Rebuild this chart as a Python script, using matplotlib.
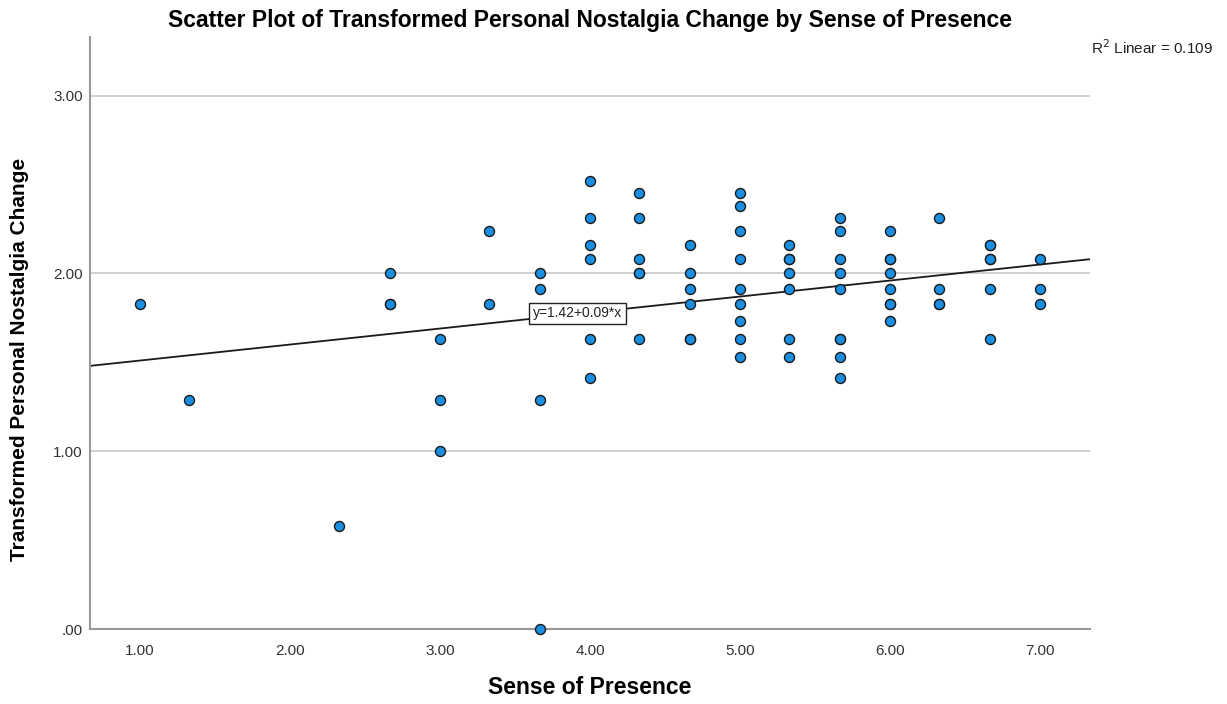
import matplotlib
matplotlib.use("Agg")
import matplotlib.pyplot as plt
import numpy as np

plt.rcParams["font.family"] = ["Liberation Sans", "DejaVu Sans"]

# Sense of Presence (x) and transformed nostalgia change (y), read per column
presence = [
    1.00,
    1.33,
    2.33,
    2.67, 2.67, 2.67,
    3.00, 3.00, 3.00,
    3.33, 3.33,
    3.67, 3.67, 3.67, 3.67,
    4.00, 4.00, 4.00, 4.00, 4.00, 4.00,
    4.33, 4.33, 4.33, 4.33, 4.33, 4.33,
    4.67, 4.67, 4.67, 4.67, 4.67, 4.67,
    5.00, 5.00, 5.00, 5.00, 5.00, 5.00, 5.00, 5.00, 5.00,
    5.33, 5.33, 5.33, 5.33, 5.33, 5.33, 5.33,
    5.67, 5.67, 5.67, 5.67, 5.67, 5.67, 5.67, 5.67, 5.67,
    6.00, 6.00, 6.00, 6.00, 6.00, 6.00, 6.00, 6.00,
    6.33, 6.33, 6.33, 6.33,
    6.67, 6.67, 6.67, 6.67, 6.67, 6.67,
    7.00, 7.00, 7.00,
]
nostalgia = [
    1.83,
    1.29,
    0.58,
    2.00, 1.83, 1.83,
    1.63, 1.29, 1.00,
    2.24, 1.83,
    2.00, 1.91, 1.29, 0.00,
    2.52, 2.31, 2.16, 2.08, 1.63, 1.41,
    2.45, 2.31, 2.08, 2.00, 2.00, 1.63,
    2.16, 2.00, 1.91, 1.83, 1.63, 1.63,
    2.45, 2.38, 2.24, 2.08, 1.91, 1.83, 1.73, 1.63, 1.53,
    2.16, 2.08, 2.08, 2.00, 1.91, 1.63, 1.53,
    2.31, 2.24, 2.08, 2.00, 1.91, 1.63, 1.63, 1.53, 1.41,
    2.24, 2.08, 2.08, 2.00, 1.91, 1.83, 1.83, 1.73,
    2.31, 1.91, 1.83, 1.83,
    2.16, 2.16, 2.08, 2.08, 1.91, 1.63,
    2.08, 1.91, 1.83,
]

fit_intercept = 1.42
fit_slope = 0.09
r_squared = 0.109

x_ticks = [1, 2, 3, 4, 5, 6, 7]
y_ticks = [0, 1, 2, 3]


def fmt(v):
    s = f"{v:.2f}"
    return s[1:] if s.startswith("0") else s


fig = plt.figure(figsize=(12.27, 7.04), dpi=100)
ax = fig.add_axes([0.0733, 0.1065, 0.8150, 0.8410])

xmin, xmax = 0.667, 7.333
ymin, ymax = 0.0, 3.33

for yv in y_ticks[1:]:
    ax.axhline(yv, color="#c8c8c8", lw=1.2, zorder=0)

xs = np.array([xmin, xmax])
ax.plot(xs, fit_intercept + fit_slope * xs, color="#1a1a1a", lw=1.3, zorder=2)

ax.scatter(presence, nostalgia, s=52, c="#1a8ee0", edgecolors="#1a1a1a",
           linewidths=1.0, zorder=3, clip_on=False)

ax.text(3.62, fit_intercept + fit_slope * 3.62 + 0.03,
        f"y={fit_intercept:.2f}+{fit_slope:.2f}*x", fontsize=10,
        va="center", ha="left", color="#222222", zorder=4,
        bbox=dict(boxstyle="square,pad=0.25", fc="white", ec="#222222", lw=1.0))

ax.set_xlim(xmin, xmax)
ax.set_ylim(ymin, ymax)
ax.set_xticks(x_ticks)
ax.set_xticklabels([fmt(v) for v in x_ticks])
ax.set_yticks(y_ticks)
ax.set_yticklabels([fmt(v) for v in y_ticks])
ax.tick_params(length=0, labelsize=11, colors="#333333")
ax.tick_params(axis="x", pad=11)
ax.tick_params(axis="y", pad=5)

for side in ("top", "right"):
    ax.spines[side].set_visible(False)
for side in ("left", "bottom"):
    ax.spines[side].set_color("#999999")
    ax.spines[side].set_linewidth(1.5)

ax.set_title("Scatter Plot of Transformed Personal Nostalgia Change by Sense of Presence",
             fontsize=16.5, fontweight="bold", pad=7)
ax.set_xlabel("Sense of Presence", fontsize=16.5, fontweight="bold")
ax.xaxis.set_label_coords(0.5, -0.08)
ax.set_ylabel("Transformed Personal Nostalgia Change", fontsize=15,
              fontweight="bold")
ax.yaxis.set_label_coords(-0.061, 0.455)

fig.text(0.889, 0.933, f"R$^2$ Linear = {r_squared:.3f}", fontsize=11,
         color="#222222", ha="left", va="center")

fig.savefig("out.png", dpi=100, facecolor="white")
